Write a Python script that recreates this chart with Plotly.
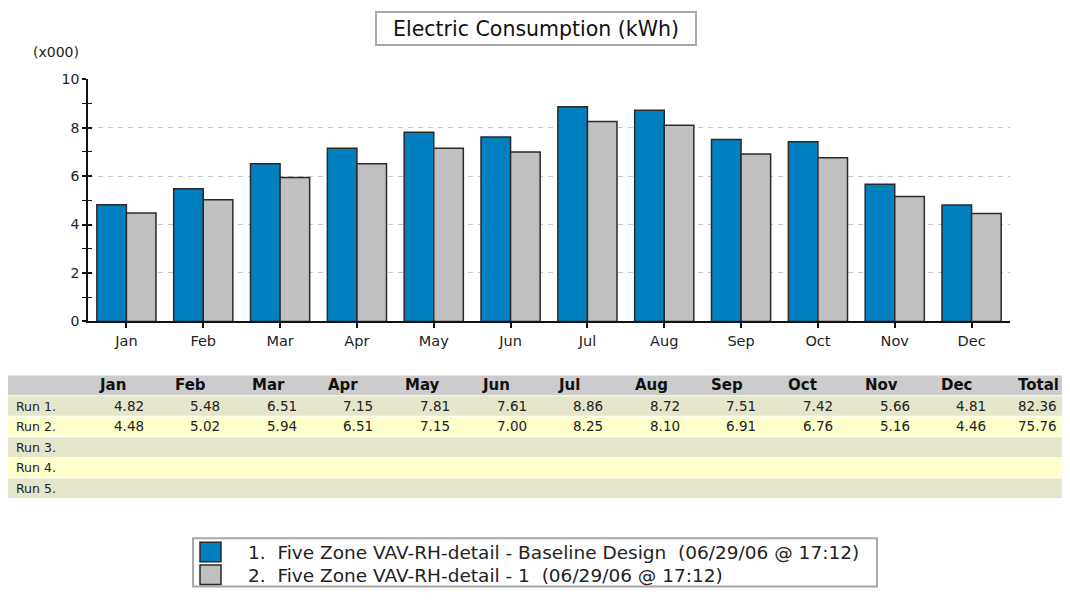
import plotly.graph_objects as go

months = ["Jan", "Feb", "Mar", "Apr", "May", "Jun", "Jul", "Aug", "Sep", "Oct", "Nov", "Dec"]
run1 = [4.82, 5.48, 6.51, 7.15, 7.81, 7.61, 8.86, 8.72, 7.51, 7.42, 5.66, 4.81]
run2 = [4.48, 5.02, 5.94, 6.51, 7.15, 7.00, 8.25, 8.10, 6.91, 6.76, 5.16, 4.46]
totals = [82.36, 75.76]
run_labels = ["Run 1.", "Run 2.", "Run 3.", "Run 4.", "Run 5."]
series_names = [
    "1.  Five Zone VAV-RH-detail - Baseline Design  (06/29/06 @ 17:12)",
    "2.  Five Zone VAV-RH-detail - 1  (06/29/06 @ 17:12)",
]
title_text = "Electric Consumption (kWh)"
unit_text = "(x000)"
y_ticks = [0, 2, 4, 6, 8, 10]

# page is 1070x603; the browser body adds an 8px margin around the figure
OX, OY = 8, 8
W, H = 1054, 587
BLUE = "#0080c0"
GRAY = "#c0c0c0"
EDGE = "#2a2a2a"
FONT = "DejaVu Sans"


def px(x):
    return (x - OX) / W


def py(y):
    return 1 - (y - OY) / H


fig = go.Figure()
fig.add_trace(go.Bar(x=months, y=run1, name=series_names[0],
                     marker=dict(color=BLUE, line=dict(color=EDGE, width=1.5))))
fig.add_trace(go.Bar(x=months, y=run2, name=series_names[1],
                     marker=dict(color=GRAY, line=dict(color=EDGE, width=1.5))))
# helper trace on an overlaid axis that draws the inner half of the crossing y ticks
fig.add_trace(go.Scatter(x=months[:1], y=[None], yaxis="y2", showlegend=False, hoverinfo="skip"))

shapes = []
annotations = []

# Title box
annotations.append(dict(
    text=title_text, xref="paper", yref="paper", x=px(536), y=py(21), showarrow=False,
    font=dict(family=FONT, size=20.5, color="#111"), bgcolor="white", bordercolor="#a8a8a8",
    borderwidth=2, width=316, height=29, xanchor="center", yanchor="middle",
))
annotations.append(dict(
    text=unit_text, xref="paper", yref="paper", x=px(56), y=py(45), showarrow=False,
    font=dict(family=FONT, size=14, color="#222"), xanchor="center", yanchor="middle",
))

# Table
row_edges = [377, 398.5, 419.5, 440.5, 462, 483, 504]
row_colors = ["#cccccc", "#e5e5cc", "#ffffcc", "#e5e5cc", "#ffffcc", "#e5e5cc"]
for i, c in enumerate(row_colors):
    shapes.append(dict(type="rect", xref="paper", yref="paper", x0=px(5), x1=px(1068),
                       y0=py(row_edges[i + 1] - 0.5), y1=py(row_edges[i] + 0.5),
                       fillcolor=c, line=dict(width=0), layer="below"))

header_left0 = 96.5
value_right0 = 145.5
step = 76.6
cols = months + ["Total"]
hy = (row_edges[0] + row_edges[1]) / 2
for j, name in enumerate(cols):
    annotations.append(dict(
        text="<b>%s</b>" % name, xref="paper", yref="paper", x=px(header_left0 + step * j), y=py(hy),
        showarrow=False, xanchor="left", yanchor="middle", font=dict(family=FONT, size=15, color="#111"),
    ))
for r, lab in enumerate(run_labels):
    ry = (row_edges[r + 1] + row_edges[r + 2]) / 2
    annotations.append(dict(
        text=lab, xref="paper", yref="paper", x=px(14), y=py(ry), showarrow=False,
        xanchor="left", yanchor="middle", font=dict(family=FONT, size=12.5, color="#222"),
    ))
for r, vals in enumerate([run1, run2]):
    ry = (row_edges[r + 1] + row_edges[r + 2]) / 2
    for j, v in enumerate(vals + [totals[r]]):
        annotations.append(dict(
            text="%.2f" % v, xref="paper", yref="paper",
            x=px(value_right0 + step * j if j < 12 else 1059), y=py(ry), showarrow=False,
            xanchor="right", yanchor="middle", font=dict(family=FONT, size=13.5, color="#222"),
        ))

# Legend box
shapes.append(dict(type="rect", xref="paper", yref="paper", x0=px(193), x1=px(877), y0=py(594.5), y1=py(545),
                   fillcolor="white", line=dict(color="#a8a8a8", width=2)))
for k, (col, nm) in enumerate(zip([BLUE, GRAY], series_names)):
    top = 549 + 23.5 * k
    shapes.append(dict(type="rect", xref="paper", yref="paper", x0=px(200), x1=px(221),
                       y0=py(top + 20), y1=py(top), fillcolor=col, line=dict(color=EDGE, width=1.5)))
    annotations.append(dict(
        text=nm, xref="paper", yref="paper", x=px(246), y=py(top + 10.5), showarrow=False,
        xanchor="left", yanchor="middle", font=dict(family=FONT, size=18.5, color="#222"),
    ))

ydom = [py(322), py(73)]
fig.update_layout(
    width=W, height=H, autosize=False,
    margin=dict(l=0, r=0, t=0, b=0),
    paper_bgcolor="white", plot_bgcolor="white",
    showlegend=False,
    barmode="group", bargap=0.23, bargroupgap=0,
    shapes=shapes, annotations=annotations,
    xaxis=dict(
        domain=[px(88), px(1010)], range=[-0.5, len(months) - 0.5], autorange=False,
        showgrid=False, showline=True, linecolor="#111", linewidth=1.5,
        ticks="outside", ticklen=5, tickcolor="#111", tickwidth=1.5,
        tickfont=dict(family=FONT, size=14.5, color="#222"),
    ),
    yaxis=dict(
        domain=ydom, range=[0, 10], tickvals=y_ticks,
        showline=True, linecolor="#111", linewidth=1.5,
        ticks="outside", ticklen=4, tickcolor="#111", tickwidth=1.5,
        showgrid=True, gridcolor="#c8c8c8", griddash="5px,5px", gridwidth=1,
        zeroline=False,
        minor=dict(dtick=1, ticks="outside", ticklen=4, tickcolor="#111", tickwidth=1.2, showgrid=False),
        tickfont=dict(family=FONT, size=14, color="#222"),
    ),
    yaxis2=dict(
        overlaying="y", side="left", range=[0, 10], tickvals=y_ticks, showticklabels=False,
        showline=False, showgrid=False, zeroline=False,
        ticks="inside", ticklen=4, tickcolor="#111", tickwidth=1.5,
        minor=dict(dtick=1, ticks="inside", ticklen=4, tickcolor="#111", tickwidth=1.2, showgrid=False),
    ),
)

fig.write_html("out.html")
